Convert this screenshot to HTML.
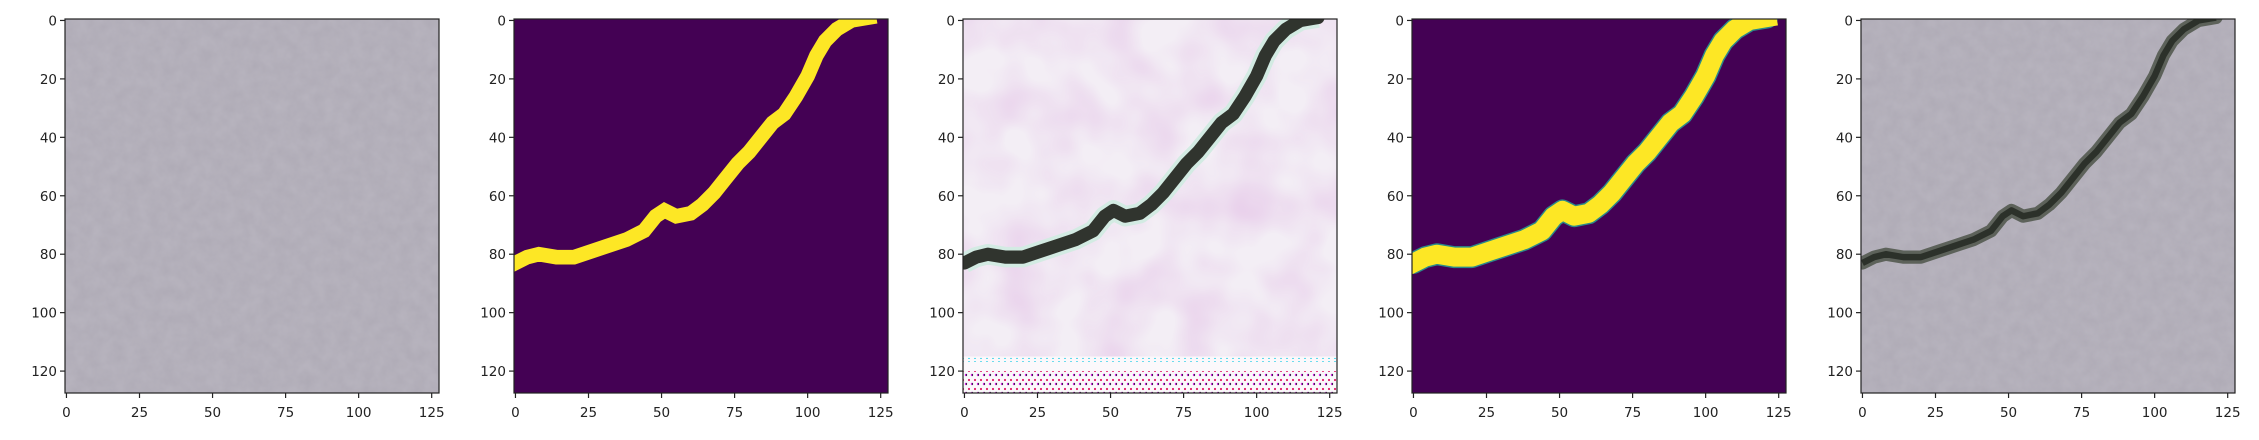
<!DOCTYPE html>
<html><head><meta charset="utf-8">
<style>
html,body{margin:0;padding:0;background:#fff;overflow:hidden;}
body{width:2259px;height:440px;overflow:hidden;font-family:"Liberation Sans","DejaVu Sans",sans-serif;}
svg{display:block;}
svg text{font-family:"DejaVu Sans","Liberation Sans",sans-serif;font-size:13.5px;fill:#222;}
</style></head>
<body>
<svg id="fig" width="2259" height="440" viewBox="0 0 2259 440" xmlns="http://www.w3.org/2000/svg">
<defs>
<filter id="noise" x="0" y="0" width="100%" height="100%">
<feTurbulence type="fractalNoise" baseFrequency="0.08" numOctaves="3" seed="3"/>
<feColorMatrix type="matrix" values="0 0 0 0 0.58  0 0 0 0 0.56  0 0 0 0 0.62  0 0 0 0.4 0"/>
<feComposite in2="SourceGraphic" operator="in"/>
</filter>
<filter id="blotch" x="0" y="0" width="100%" height="100%">
<feTurbulence type="fractalNoise" baseFrequency="0.022" numOctaves="2" seed="8"/>
<feColorMatrix type="matrix" values="0 0 0 0 0.8  0 0 0 0 0.6  0 0 0 0 0.82  0 0 0 1.4 -0.45"/>
<feComposite in2="SourceGraphic" operator="in"/>
</filter>
<pattern id="dots" width="6" height="9" patternUnits="userSpaceOnUse">
<circle cx="3" cy="2" r="1.1" fill="#e0206a"/><circle cx="0" cy="6" r="1.2" fill="#402050"/><circle cx="6" cy="6" r="1.2" fill="#d020e0"/>
</pattern>
<pattern id="cyandots" width="6" height="4" patternUnits="userSpaceOnUse">
<circle cx="3" cy="2" r="1" fill="#30d0e8"/>
</pattern>
</defs>
</svg>
<script>
// crack centerline (data coords, 0..127)
const crackX = [0, 4, 8, 14, 20, 26, 32, 38, 44, 48, 51, 55, 60, 64, 68, 72, 76, 80, 84, 88, 92, 96, 100, 103, 106, 110, 115, 121];
const crackY = [83, 81, 80, 81, 81, 79, 77, 75, 72, 67, 65, 67, 66, 63, 59, 54, 49, 45, 40, 35, 32, 26, 19, 12, 7, 3, 0, -1];
const xTicks = [0, 25, 50, 75, 100, 125];
const yTicks = [0, 20, 40, 60, 80, 100, 120];
const panelLefts = [65, 514, 963, 1412, 1861];
const panelKinds = ['gray', 'mask', 'gen', 'smooth', 'overlay'];
const NS = 'http://www.w3.org/2000/svg';
const svg = document.getElementById('fig');
const TOP = 19, SIZE = 374, N = 128;
function mk(tag, attrs, parent) {
  const e = document.createElementNS(NS, tag);
  for (const k in attrs) e.setAttribute(k, attrs[k]);
  (parent || svg).appendChild(e);
  return e;
}
panelKinds.forEach((kind, i) => {
  const L = panelLefts[i];
  const sx = v => L + (v + 0.5) * SIZE / N;
  const sy = v => TOP + (v + 0.5) * SIZE / N;
  const g = mk('g', {});
  
  
  const clipId = 'clip' + i;
  const cp = mk('clipPath', {id: clipId}, g);
  mk('rect', {x: L, y: TOP, width: SIZE, height: SIZE}, cp);
  const img = mk('g', {'clip-path': 'url(#' + clipId + ')'}, g);
  
  
  const pts = crackX.map((x, j) => sx(x) + ',' + sy(crackY[j])).join(' ');
  const w = SIZE / N;
  if (kind === 'gray' || kind === 'overlay') {
    mk('rect', {x: L, y: TOP, width: SIZE, height: SIZE, fill: '#aeaab5'}, img);
    mk('rect', {x: L, y: TOP, width: SIZE, height: SIZE, fill: '#fff', filter: 'url(#noise)'}, img);
    if (kind === 'overlay') {
      const c = mk('polyline', {points: pts, fill: 'none', stroke: '#535a50', 'stroke-width': 4.5 * w, 'stroke-linejoin': 'round', 'stroke-linecap': 'round', opacity: 0.9}, img);
      
      
      mk('polyline', {points: pts, fill: 'none', stroke: '#2c312a', 'stroke-width': 2.2 * w, 'stroke-linejoin': 'round'}, img);
    }
  } else if (kind === 'mask' || kind === 'smooth') {
    mk('rect', {x: L, y: TOP, width: SIZE, height: SIZE, fill: '#440154'}, img);
    if (kind === 'smooth') mk('polyline', {points: pts, fill: 'none', stroke: '#2a8a8a', 'stroke-width': 7.5 * w, 'stroke-linejoin': 'round', 'stroke-linecap': 'round'}, img);
    const c = mk('polyline', {points: pts, fill: 'none', stroke: '#fde725', 'stroke-width': (kind === 'smooth' ? 6.5 : 5) * w, 'stroke-linejoin': kind === 'smooth' ? 'round' : 'miter', 'stroke-linecap': 'square'}, img);
    
    
  } else {
    mk('rect', {x: L, y: TOP, width: SIZE, height: SIZE, fill: '#f3eef5'}, img);
    mk('rect', {x: L, y: TOP, width: SIZE, height: SIZE, fill: '#fff', filter: 'url(#blotch)'}, img);
    mk('rect', {x: L, y: sy(115), width: SIZE, height: TOP + SIZE - sy(115), fill: '#fbf8fb'}, img);
    mk('rect', {x: L, y: sy(115.5), width: SIZE, height: 4, fill: 'url(#cyandots)'}, img);
    mk('rect', {x: L, y: sy(120), width: SIZE, height: TOP + SIZE - sy(120), fill: 'url(#dots)'}, img);
    mk('polyline', {points: pts, fill: 'none', stroke: '#d3ebe3', 'stroke-width': 7 * w, 'stroke-linejoin': 'round'}, img);
    const c = mk('polyline', {points: pts, fill: 'none', stroke: '#30342e', 'stroke-width': 4.5 * w, 'stroke-linejoin': 'round', 'stroke-linecap': 'round'}, img);
    
    
  }
  const fr = mk('rect', {x: L, y: TOP, width: SIZE, height: SIZE, fill: 'none', stroke: '#222', 'stroke-width': 1.2}, g);
  
  
  xTicks.forEach(t => {
    const x = sx(t);
    mk('line', {x1: x, y1: TOP + SIZE, x2: x, y2: TOP + SIZE + 5, stroke: '#222', 'stroke-width': 1.2}, g);
    const tx = mk('text', {x: x, y: TOP + SIZE + 24, 'text-anchor': 'middle'}, g);
    tx.textContent = t;
    
    
  });
  yTicks.forEach(t => {
    const y = sy(t);
    mk('line', {x1: L, y1: y, x2: L - 5, y2: y, stroke: '#222', 'stroke-width': 1.2}, g);
    const tx = mk('text', {x: L - 8, y: y + 5, 'text-anchor': 'end'}, g);
    tx.textContent = t;
    
    
  });
});
</script>
</body></html>
